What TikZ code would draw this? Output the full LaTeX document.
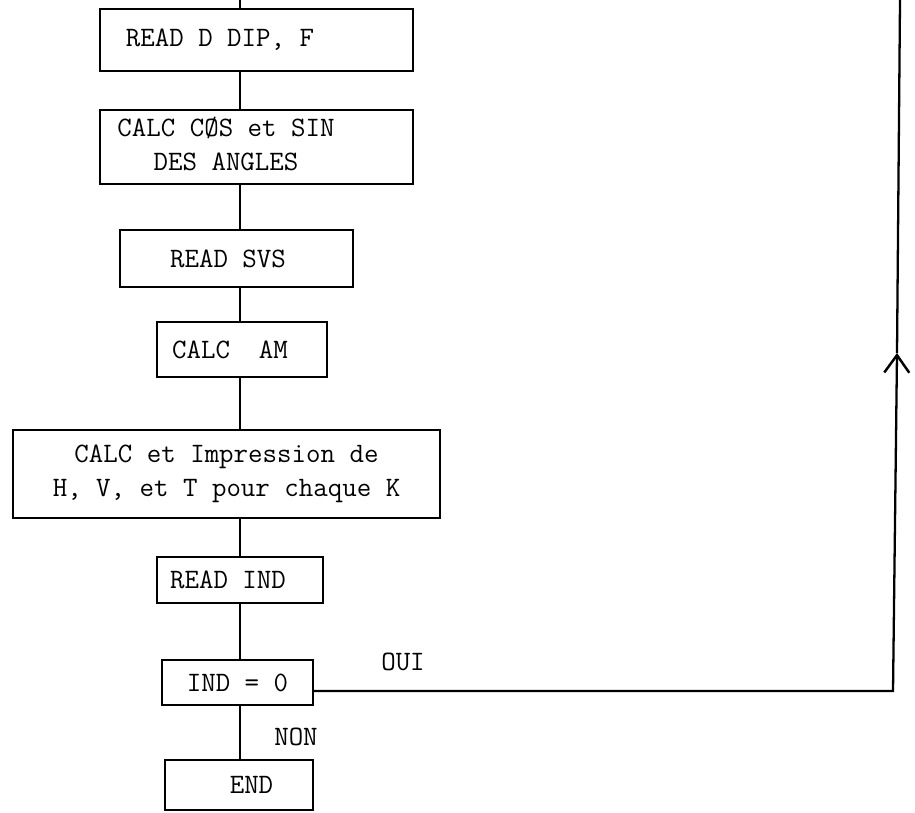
\documentclass[tikz,border=0pt]{standalone}
\usepackage{tikz}
\usetikzlibrary{arrows.meta, positioning}
\tikzset{
  flowbox/.style={
    draw, line width=1.4pt, align=center, inner sep=2pt,
    font=\fontsize{16}{19}\selectfont\ttfamily
  },
  flowline/.style={line width=1.3pt},
  flowarrow/.style={
    line width=1.3pt, -{Straight Barb[length=3.5mm, width=5mm, line width=1.4pt]}
  },
  flowlabel/.style={font=\fontsize{16}{19}\selectfont\ttfamily},
}

\begin{document}
\begin{tikzpicture}[x=0.02cm, y=-0.02cm]
  \useasboundingbox (0,0) rectangle (915,812);

  % === Steps ===
  \node[flowbox, minimum width=6.26cm, minimum height=1.24cm] (readd) at (256.5,40)
    {READ D DIP, F\hspace{1.46cm}};
  \node[flowbox, minimum width=6.26cm, minimum height=1.48cm] (calccos) at (256.5,147)
    {\begin{tabular}{@{}c@{}}CALC CØS et SIN\\DES ANGLES\end{tabular}\hspace{1.22cm}};
  \node[flowbox, minimum width=4.66cm, minimum height=1.14cm] (readsvs) at (236.5,258.5)
    {READ SVS\hspace{0.34cm}};
  \node[flowbox, minimum width=3.4cm, minimum height=1.1cm] (calcam) at (242,349.5)
    {CALC\ \ AM\hspace{0.48cm}};
  \node[flowbox, minimum width=8.54cm, minimum height=1.76cm] (calcimp) at (226.5,474)
    {CALC et Impression de\\H, V, et T pour chaque K};
  \node[flowbox, minimum width=3.32cm, minimum height=0.92cm] (readind) at (240,580)
    {READ IND\hspace{0.48cm}};
  \node[flowbox, minimum width=3.02cm, minimum height=0.9cm] (indzero) at (237.5,682.5)
    {IND = 0};
  \node[flowbox, minimum width=2.96cm, minimum height=1.0cm] (endbox) at (239,785)
    {\hspace{0.5cm}END};

  % === Labels ===
  \node[flowlabel] (oui) at (403,662) {OUI};
  \node[flowlabel] (non) at (296,737) {NON};

  % === Loose ends ===
  \coordinate (topin) at (240,0);
  \coordinate (loopbot) at (893,691);
  \coordinate (looparrow) at (897,353);
  \coordinate (looptop) at (900,0);

  % === Connectors ===
  \draw[flowline] (topin) -- (readd.north -| topin);
  \draw[flowline] (readd.south -| topin) -- (calccos.north -| topin);
  \draw[flowline] (calccos.south -| topin) -- (readsvs.north -| topin);
  \draw[flowline] (readsvs.south -| topin) -- (calcam.north -| topin);
  \draw[flowline] (calcam.south -| topin) -- (calcimp.north -| topin);
  \draw[flowline] (calcimp.south -| topin) -- (readind.north -| topin);
  \draw[flowline] (readind.south -| topin) -- (indzero.north -| topin);
  \draw[flowline] (indzero.south -| topin) -- (endbox.north -| topin);

  % === Loop back (OUI) ===
  \draw[flowarrow] (indzero.east |- loopbot) -- (loopbot) -- (looparrow);
  \draw[flowline] (looparrow) -- (looptop);

\end{tikzpicture}
\end{document}
